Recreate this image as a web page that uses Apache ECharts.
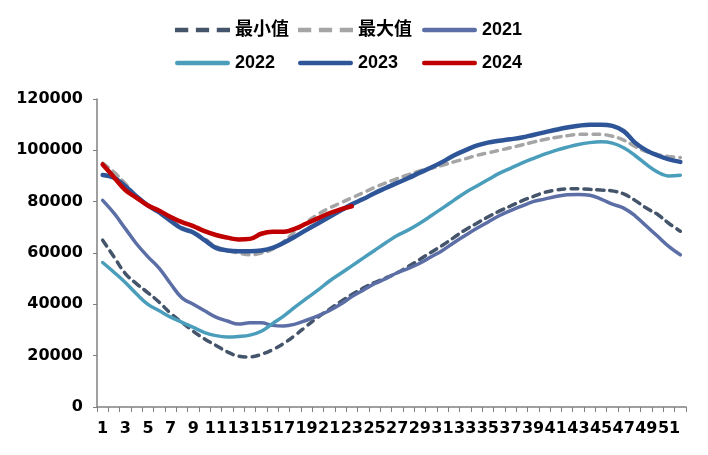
<!DOCTYPE html>
<html>
<head>
<meta charset="utf-8">
<title>chart</title>
<script src="https://cdn.jsdelivr.net/npm/echarts@6/dist/echarts.min.js"></script>
<style>
  html, body { margin: 0; padding: 0; background: #fff; }
  #main { width: 708px; height: 455px; }
</style>
</head>
<body>
<div id="main"></div>
<script>
// 周次 1-52
var weeks = [];
for (var i = 1; i <= 52; i++) weeks.push(String(i));

// 最小值
var minVals = [65000, 58500, 52000, 48000, 44500, 40800, 36500, 33000, 29500, 26500,
  24000, 21500, 19800, 19500, 20500, 22300, 24800, 28000, 31500, 35000,
  38000, 41000, 43800, 46300, 48500, 50300, 52300, 54800, 57500, 60300,
  63000, 66000, 69000, 71500, 74000, 76300, 78300, 80300, 82000, 83600,
  84500, 85000, 85000, 84800, 84500, 84200, 83000, 80500, 77500, 75000,
  71500, 68500];
// 最大值
var maxVals = [95000, 91500, 87000, 82000, 78500, 75500, 72500, 70000, 68000, 65500,
  62500, 61000, 60000, 59300, 60000, 61500, 64500, 68500, 72000, 75000,
  77500, 79500, 81500, 83500, 85500, 87300, 89000, 90500, 92000, 93000,
  94200, 95500, 96700, 98000, 99000, 100000, 101000, 102100, 103200, 104200,
  105000, 105700, 106200, 106300, 106200, 105500, 104000, 101500, 99500, 98300,
  97600, 97200];
var vals2021 = [80500, 75500, 69500, 63500, 58500, 54000, 48000, 42500, 40000, 37500,
  35000, 33500, 32300, 32800, 32800, 31800, 31600, 32300, 33800, 35500,
  37500, 40000, 43000, 45500, 48000, 50000, 52300, 54000, 56000, 58500,
  61000, 64000, 66800, 69500, 72000, 74500, 76500, 78300, 80000, 81000,
  82000, 82700, 82800, 82500, 81000, 79000, 77500, 74500, 70500, 66500,
  62500, 59300];
var vals2022 = [56300, 52500, 48500, 44000, 40000, 37500, 35000, 33000, 31000, 29000,
  27800, 27300, 27500, 28000, 29500, 32500, 35500, 39000, 42300, 45500,
  49000, 52000, 55000, 58000, 61000, 64000, 66800, 69000, 71600, 74500,
  77500, 80500, 83500, 86000, 88500, 91000, 93000, 95000, 96800, 98500,
  100000, 101200, 102300, 103000, 103300, 102800, 101000, 98000, 94500, 91500,
  90000, 90300];
var vals2023 = [90400, 89300, 86000, 82000, 78500, 75800, 72500, 69500, 68000, 65000,
  62000, 61000, 60700, 60700, 61000, 62000, 64000, 66400, 69000, 71500,
  74000, 76500, 79000, 81000, 83300, 85300, 87300, 89200, 91300, 93300,
  95500, 98000, 100000, 101800, 103000, 103700, 104300, 105000, 106000, 107000,
  108000, 108900, 109600, 110000, 110000, 109500, 107500, 103000, 100000, 98000,
  96500, 95500];
var vals2024 = [94500, 89500, 84500, 81500, 78500, 76500, 74000, 72000, 70500, 68500,
  67000, 66000, 65300, 65500, 67500, 68300, 68300, 69500, 71500, 73500,
  75500, 77000, 78200];

var chartDom = document.getElementById('main');
var myChart = echarts.init(chartDom);

var txtFont = 'Liberation Sans, Arial, Noto Sans CJK SC, sans-serif';
var numFont = 'DejaVu Sans, sans-serif';

// 图例图标: 虚线三段 / 实线一段
var dashIcon = 'path://M0,0h13v4.5h-13z M20.5,0h13v4.5h-13z M41,0h13v4.5h-13z';
var solidIcon = 'path://M2,0h51a2,2 0 0 1 0,4.5h-51a2,2 0 0 1 0,-4.5z';

/**
 * 每个图例单独放, 按 Excel 的三列两行排
 */
function makeLegend(name, left, centerY, dashed) {
  return {
    data: [{ name: name, icon: dashed ? dashIcon : solidIcon }],
    left: left,
    top: centerY - 9,
    itemWidth: 55,
    itemHeight: 5,
    padding: 0,
    selectedMode: false,
    textStyle: {
      fontFamily: txtFont,
      fontSize: 18,
      fontWeight: 'bold',
      color: '#000',
      lineHeight: 18
    }
  };
}

function lineSeries(name, data, color, width, dashed) {
  return {
    name: name,
    type: 'line',
    data: data,
    smooth: 0.4,
    symbol: 'none',
    lineStyle: {
      color: color,
      width: width,
      type: dashed ? [7, 6] : 'solid',
      cap: 'round'
    },
    itemStyle: { color: color }
  };
}

var options = {
  animation: false,
  backgroundColor: '#fff',
  legend: [
    makeLegend('最小值', 175, 30, true),
    makeLegend('最大值', 298, 30, true),
    makeLegend('2021', 422, 30, false),
    makeLegend('2022', 175, 63, false),
    makeLegend('2023', 298, 63, false),
    makeLegend('2024', 422, 63, false)
  ],
  grid: {
    left: 97,
    right: 22,
    top: 99,
    bottom: 48,
    containLabel: false
  },
  xAxis: {
    type: 'category',
    boundaryGap: true,
    data: weeks,
    axisLine: { show: true, lineStyle: { color: '#808080', width: 1.5 } },
    axisTick: { show: true, interval: 0, length: 5, lineStyle: { color: '#808080', width: 1 } },
    axisLabel: {
      interval: 1,
      margin: 14,
      fontFamily: numFont,
      fontSize: 16,
      fontWeight: 'bold',
      color: '#000'
    },
    splitLine: { show: false }
  },
  yAxis: {
    type: 'value',
    min: 0,
    max: 120000,
    interval: 20000,
    axisLine: { show: true, lineStyle: { color: '#808080', width: 1.5 } },
    axisTick: { show: true, length: 4, lineStyle: { color: '#808080', width: 1 } },
    axisLabel: {
      margin: 14,
      formatter: function (v) { return String(v); },
      fontFamily: numFont,
      fontSize: 16,
      fontWeight: 'bold',
      color: '#000'
    },
    splitLine: { show: false }
  },
  series: [
    lineSeries('最小值', minVals, '#44546A', 3.5, true),
    lineSeries('最大值', maxVals, '#A5A5A5', 3.5, true),
    lineSeries('2021', vals2021, '#5B6EA6', 3.5, false),
    lineSeries('2022', vals2022, '#4A9EBB', 3.5, false),
    lineSeries('2023', vals2023, '#2E5597', 4.5, false),
    lineSeries('2024', vals2024, '#C00000', 4.5, false)
  ]
};

myChart.setOption(options);
</script>
</body>
</html>
